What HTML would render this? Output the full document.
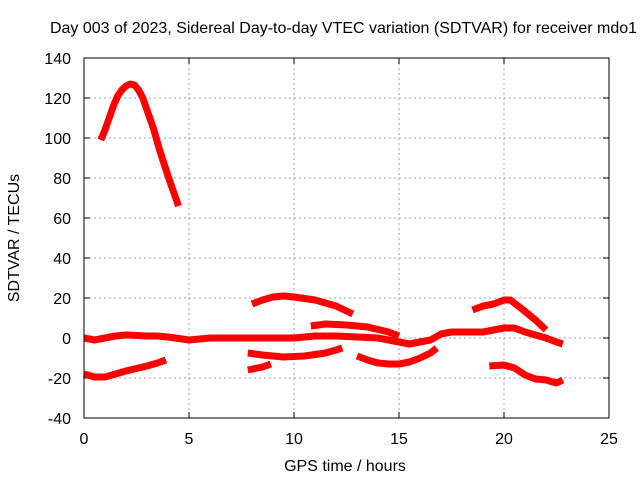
<!DOCTYPE html>
<html><head><meta charset="utf-8"><style>
body{margin:0;background:#fff}
svg text{font-family:"Liberation Sans",sans-serif;font-size:16px;fill:#000}
</style></head><body>
<svg id="c" width="640" height="480" xmlns="http://www.w3.org/2000/svg">
<text x="50" y="33" textLength="587" lengthAdjust="spacingAndGlyphs">Day 003 of 2023, Sidereal Day-to-day VTEC variation (SDTVAR) for receiver mdo1</text>
<text x="345" y="471" text-anchor="middle">GPS time / hours</text>
<text transform="translate(19,238) rotate(-90)" text-anchor="middle">SDTVAR / TECUs</text>
<g id="grid"></g><g id="series"></g>
<rect x="84" y="58" width="525" height="360" fill="none" stroke="#000" stroke-width="1"/>
</svg>
<script>
const xTicks=[0,5,10,15,20,25];
const yTicks=[-40,-20,0,20,40,60,80,100,120,140];
const s1x=[0.8,1.0,1.2,1.4,1.6,1.8,2.0,2.2,2.4,2.6,2.8,3.0,3.3,3.6,4.0,4.5];
const s1y=[99,104,110,116,121,124,126,127,126.5,124,120,114,105,94,81,66];
const s2x=[0,0.5,1,1.5,2,3,3.5,4,5,6,7,8,9,10,11,12,13,14,15,15.5,16,16.5,17,17.5,18,19,19.5,20,20.5,21,22,22.5,22.8];
const s2y=[0,-1,0,1,1.5,1,1,0.5,-1,0,0,0,0,0,1,1,0.5,0,-2,-3,-2,-1,2,3,3,3,4,5,5,3,0,-2,-3];
const s3x=[0,0.5,1,1.5,2,3,3.5,3.9];
const s3y=[-18,-19.5,-19.5,-18,-16.5,-14,-12.5,-11];
const s4x=[8,8.5,9,9.5,10,11,12,12.8];
const s4y=[17,19,20.5,21,20.5,19,16,12];
const s5x=[7.8,8.5,9.5,10.5,11.5,12,12.3];
const s5y=[-7.5,-8.5,-9.5,-9,-7.5,-6,-5];
const s6x=[7.8,8.5,8.9];
const s6y=[-16,-14.5,-13];
const s7x=[10.8,11.5,12.5,13.5,14.5,15];
const s7y=[6,7,6.5,5.5,3,1];
const s8x=[13,13.5,14,14.5,15,15.5,16,16.5,16.8];
const s8y=[-9,-11,-12.5,-13,-13,-12,-10,-7.5,-5];
const s9x=[18.5,19,19.5,20,20.3,20.8,21.5,22];
const s9y=[14,16,17,19,19,15,9,4];
const s10x=[19.3,20,20.5,21,21.5,22,22.5,22.8];
const s10y=[-14,-13.5,-15,-18.5,-20.5,-21,-22.5,-21];
const X=v=>84+v*21;
const Y=v=>338-v*2;
const NS="http://www.w3.org/2000/svg";
const g=document.getElementById('grid'),sg=document.getElementById('series'),svg=document.getElementById('c');
function mk(t,a,p){const e=document.createElementNS(NS,t);for(const k in a)e.setAttribute(k,a[k]);p.appendChild(e);return e;}
xTicks.forEach(t=>{
 if(t>0&&t<25){const l=mk('line',{x1:X(t),x2:X(t),y1:58,y2:418,stroke:'#a0a0a0','stroke-dasharray':'2,3'},g);
 
 }
 mk('line',{x1:X(t),x2:X(t),y1:418,y2:412,stroke:'#000'},g);
 mk('line',{x1:X(t),x2:X(t),y1:58,y2:64,stroke:'#000'},g);
 const tx=mk('text',{x:X(t),y:444,'text-anchor':'middle'},svg);tx.textContent=t;
 
 
});
yTicks.forEach(t=>{
 if(t>-40&&t<140){const l=mk('line',{x1:84,x2:609,y1:Y(t),y2:Y(t),stroke:'#a0a0a0','stroke-dasharray':'2,3'},g);
 
 }
 mk('line',{x1:84,x2:90,y1:Y(t),y2:Y(t),stroke:'#000'},g);
 mk('line',{x1:609,x2:603,y1:Y(t),y2:Y(t),stroke:'#000'},g);
 const tx=mk('text',{x:71,y:Y(t)+6,'text-anchor':'end'},svg);tx.textContent=t;
 
 
});
const all=[[s1x,s1y],[s2x,s2y],[s3x,s3y],[s4x,s4y],[s5x,s5y],[s6x,s6y],[s7x,s7y],[s8x,s8y],[s9x,s9y],[s10x,s10y]];
all.forEach((s,i)=>{
 const pts=s[0].map((x,j)=>X(x)+','+Y(s[1][j])).join(' ');
 const p=mk('polyline',{points:pts,fill:'none',stroke:'#f00','stroke-width':7,'stroke-linejoin':'round','stroke-linecap':'butt'},sg);
 
 
});
</script>
</body></html>
